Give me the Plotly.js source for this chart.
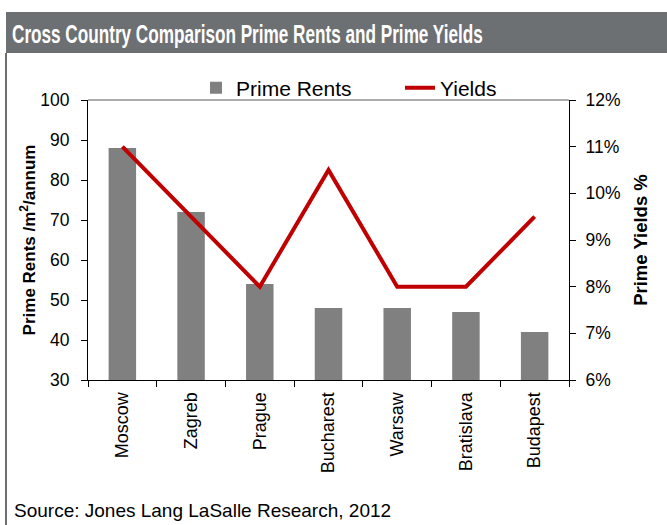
<!DOCTYPE html>
<html>
<head>
<meta charset="utf-8">
<script src="https://cdn.plot.ly/plotly-3.0.1.min.js"></script>
<style>
html,body{margin:0;padding:0;background:#fff;}
#chart{width:667px;height:525px;}
</style>
</head>
<body>
<div id="chart"></div>
<script>
const cities = ["Moscow", "Zagreb", "Prague", "Bucharest", "Warsaw", "Bratislava", "Budapest"];
const primeRents = [88, 72, 54, 48, 48, 47, 42];
const yields = [11, 9.5, 8, 10.5, 8, 8, 9.5];
const rentTicks = [30, 40, 50, 60, 70, 80, 90, 100];
const yieldTicks = [6, 7, 8, 9, 10, 11, 12];
const yieldTickText = ["6%", "7%", "8%", "9%", "10%", "11%", "12%"];

const FONT = "Liberation Sans, Arial, sans-serif";
const W = 667, H = 525;
const L = 88, R = 569, T = 100, B = 380;
const px = x => (x - L) / (R - L);
const py = y => (B - y) / (B - T);

const traces = [
  {
    type: "bar", name: "Prime Rents", x: cities, y: primeRents,
    marker: {color: "#808080"}, width: 0.4, yaxis: "y"
  },
  {
    type: "scatter", mode: "lines", name: "Yields", x: cities, y: yields,
    line: {color: "#c00000", width: 4}, yaxis: "y2"
  }
];

const layout = {
  width: W, height: H,
  margin: {l: L, r: W - R, t: T, b: H - B, pad: 0},
  paper_bgcolor: "#ffffff", plot_bgcolor: "#ffffff",
  font: {family: FONT, size: 16, color: "#000"},
  showlegend: true,
  legend: {
    orientation: "h", x: px(196), xanchor: "left", y: py(88), yanchor: "middle",
    font: {family: FONT, size: 21, color: "#000"}, bgcolor: "rgba(0,0,0,0)",
    entrywidth: 159, entrywidthmode: "pixels", tracegroupgap: 0
  },
  title: {
    text: "Cross Country Comparison Prime Rents and Prime Yields",
    font: {family: FONT, size: 26, color: "#ffffff", weight: "bold"},
    x: 12 / W, xanchor: "left", xref: "container",
    y: 1 - 34 / H, yanchor: "middle", yref: "container"
  },
  xaxis: {
    type: "category", tickangle: -90, showline: true, linecolor: "#000", linewidth: 1,
    ticks: "outside", ticklen: 6, tickcolor: "#000", tickson: "boundaries",
    tickfont: {family: FONT, size: 18}, showgrid: false, zeroline: false,
    range: [-0.5, 6.5], ticklabelstandoff: 4
  },
  yaxis: {
    range: [30, 100], tickvals: rentTicks, showline: true, linecolor: "#000", linewidth: 1,
    ticks: "outside", ticklen: 6, tickcolor: "#000", showgrid: false, zeroline: false,
    tickfont: {family: FONT, size: 17.5}, ticklabelstandoff: 8,
    title: {text: "Prime Rents /m<sup>2</sup>/annum", font: {family: FONT, size: 17, weight: "bold"}, standoff: 0}
  },
  yaxis2: {
    range: [6, 12], tickvals: yieldTicks, ticktext: yieldTickText, overlaying: "y", side: "right",
    showline: true, linecolor: "#000", linewidth: 1, ticks: "outside", ticklen: 6, tickcolor: "#000",
    showgrid: false, zeroline: false, tickfont: {family: FONT, size: 17.5}, ticklabelstandoff: 6,
    title: {text: "Prime Yields %", font: {family: FONT, size: 18.5, weight: "bold"}, standoff: 14}
  },
  shapes: [
    {type: "rect", xref: "paper", yref: "paper", x0: px(6), x1: px(667), y0: py(53), y1: py(12),
     fillcolor: "#6d7073", line: {width: 0}, layer: "below"},
    {type: "line", xref: "paper", yref: "paper", x0: px(6), x1: px(6), y0: py(53), y1: py(525),
     line: {color: "#6d7073", width: 2}},
    {type: "line", xref: "paper", yref: "paper", x0: 0, x1: 1, y0: 1, y1: 1,
     line: {color: "#909090", width: 1.5}}
  ],
  annotations: [
    {text: "Source: Jones Lang LaSalle Research, 2012", xref: "paper", yref: "paper",
     x: px(12), xanchor: "left", y: py(510), yanchor: "middle", showarrow: false,
     font: {family: FONT, size: 19, color: "#000"}}
  ]
};

Plotly.newPlot("chart", traces, layout, {displayModeBar: false, staticPlot: true}).then(function (gd) {
  // condense the banner title horizontally like the narrow font of the original
  const t = gd.querySelector(".gtitle");
  if (t) {
    const bb = t.getBBox();
    const target = 471;
    if (bb.width > target) {
      const s = target / bb.width;
      const x0 = bb.x;
      const prev = t.getAttribute("transform") || "";
      t.setAttribute("transform", "matrix(" + s + ",0,0,1," + (x0 * (1 - s)) + ",0) " + prev);
    }
  }
});
</script>
</body>
</html>
